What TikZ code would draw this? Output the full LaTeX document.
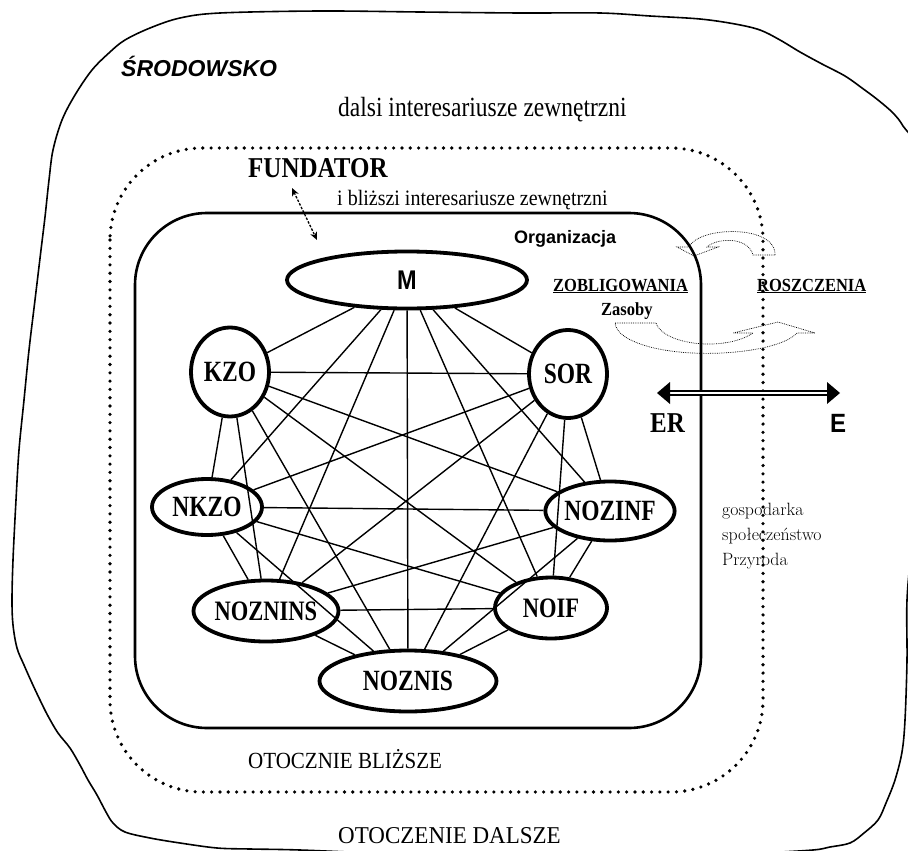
\documentclass[tikz,border=0pt]{standalone}
\usepackage{fontspec}
\usepackage{graphicx}
\newfontfamily\tnr{Liberation Serif}
\newfontfamily\ari{Liberation Sans}
\newcommand\vstretch[2]{\scalebox{1}[#1]{#2}}
\usetikzlibrary{shapes.geometric,arrows.meta}
\tikzset{
  outerline/.style={line width=1.6pt, line join=round},
  dotline/.style={line width=3.6pt, dash pattern=on 0pt off 8.3pt, line cap=round},
  orgbox/.style={line width=2.6pt},
  ell/.style={ellipse, draw, line width=3.8pt, inner sep=0pt, font=\tnr\bfseries\fontsize{23.5}{28}\selectfont},
  link/.style={line width=1.4pt},
  txt/.style={inner sep=0pt, anchor=base west},
  blockarrow/.style={line width=0.7pt, dash pattern=on 0.8pt off 1pt},
  fundarrow/.style={line width=1.3pt, dash pattern=on 2.5pt off 1.5pt, {Stealth[length=8pt,width=7pt]}-{Stealth[length=8pt,width=7pt]}},
}
\begin{document}
\begin{tikzpicture}[x=1pt,y=-1pt]
\useasboundingbox (0,0) rectangle (908,851);
\clip (0,0) rectangle (908,851);

% outer wavy boundary
\draw[outerline] plot[smooth cycle, tension=0.55] coordinates {
(220,13) (320,11) (420,12) (520,13) (600,13) (650,16) (700,19) (735,24) (760,30) (780,40) (800,52) (822,64) (845,76) (862,88) (878,100) (893,113) (903,126) (914,150) (919,250) (920,350) (919,450) (912,540) (907,600) (907,660) (905,720) (902,752) (895,780) (886,803) (878,820) (864,833) (850,843) (830,847) (813,850) (760,853) (700,855) (600,856) (500,856) (400,854) (300,850) (250,849) (217,848) (180,843) (150,838) (125,832) (113,823) (106,812) (97,795) (88,780) (80,765) (70,748) (58,733) (48,716) (40,700) (32,683) (24,665) (17,648) (13,625) (12,600) (13,560) (16,500) (19,450) (24,400) (29,350) (35,300) (41,250) (45,217) (49,180) (53,150) (62,120) (75,95) (92,70) (110,52) (125,40) (150,28) (180,18)};

% dotted rounded rectangle
\draw[dotline, rounded corners=92pt] (110,148) rectangle (763,792);

% organisation box
\draw[orgbox, rounded corners=72pt] (135,213) rectangle (701,728);

% ellipse nodes
\node[ell, minimum width=240pt, minimum height=57pt] (M) at (407,280) {\ari\bfseries\vstretch{1.15}{M}};
\node[ell, minimum width=78pt, minimum height=89pt] (KZO) at (230,372) {\vstretch{1.25}{KZO}};
\node[ell, minimum width=78pt, minimum height=88pt] (SOR) at (568,374) {\vstretch{1.25}{SOR}};
\node[ell, minimum width=110pt, minimum height=56pt] (NKZO) at (207,507) {\vstretch{1.25}{NKZO}};
\node[ell, minimum width=115pt, minimum height=59pt] (NOZINF) at (610,511) {\vstretch{1.25}{NOZINF}};
\node[ell, minimum width=115pt, minimum height=61pt, font=\tnr\bfseries\fontsize{22.5}{26}\selectfont] (NOZNINS) at (266,611) {\vstretch{1.25}{NOZNINS}};
\node[ell, minimum width=112pt, minimum height=61pt, font=\tnr\bfseries\fontsize{22.5}{26}\selectfont] (NOIF) at (551,608) {\vstretch{1.25}{NOIF}};
\node[ell, minimum width=177pt, minimum height=61pt] (NOZNIS) at (408,681) {\vstretch{1.25}{NOZNIS}};

% complete graph links
\foreach \a/\b in {M/KZO, M/SOR, M/NKZO, M/NOZINF, M/NOZNINS, M/NOIF, M/NOZNIS,
  KZO/SOR, KZO/NKZO, KZO/NOZINF, KZO/NOZNINS, KZO/NOIF, KZO/NOZNIS,
  SOR/NKZO, SOR/NOZINF, SOR/NOZNINS, SOR/NOIF, SOR/NOZNIS,
  NKZO/NOZINF, NKZO/NOZNINS, NKZO/NOIF, NKZO/NOZNIS,
  NOZINF/NOZNINS, NOZINF/NOIF, NOZINF/NOZNIS,
  NOZNINS/NOIF, NOZNINS/NOZNIS, NOIF/NOZNIS}
  \draw[link] (\a) -- (\b);

% texts
\node[txt, font=\ari\bfseries\itshape\fontsize{23}{27}\selectfont] (srod) at (121,77) {ŚRODOWSKO};
\node[txt, font=\tnr\fontsize{23.5}{28}\selectfont] (dalsi) at (338,117) {\vstretch{1.18}{dalsi interesariusze zewnętrzni}};
\node[txt, font=\tnr\bfseries\fontsize{25}{30}\selectfont] (fund) at (248,177) {\vstretch{1.15}{FUNDATOR}};
\node[txt, font=\tnr\fontsize{20}{24}\selectfont] (blizsi) at (337,205) {\vstretch{1.1}{i bliższi interesariusze zewnętrzni}};
\node[txt, font=\ari\bfseries\fontsize{18}{22}\selectfont] (org) at (514,243) {Organizacja};
\node[txt, font=\tnr\bfseries\fontsize{16.5}{20}\selectfont] (zob) at (553,291) {\underline{\vstretch{1.12}{ZOBLIGOWANIA}}};
\node[txt, font=\tnr\bfseries\fontsize{16.5}{20}\selectfont] (rosz) at (757,291) {\underline{\vstretch{1.12}{ROSZCZENIA}}};
\node[txt, font=\tnr\bfseries\fontsize{16.5}{20}\selectfont] (zas) at (601,315) {\vstretch{1.12}{Zasoby}};
\node[txt, font=\tnr\bfseries\fontsize{25}{30}\selectfont] (ER) at (650,432) {\vstretch{1.15}{ER}};
\node[txt, font=\ari\bfseries\fontsize{24}{30}\selectfont] (E) at (830,432) {\vstretch{1.1}{E}};
\node[txt, font=\fontsize{17.8}{25}\selectfont] (gosp) at (722,515) {gospodarka};
\node[txt, font=\fontsize{17.8}{25}\selectfont] (spol) at (722,540) {społeczeństwo};
\node[txt, font=\fontsize{17.8}{25}\selectfont] (przy) at (722,565) {Przyroda};
\node[txt, font=\tnr\fontsize{21}{25}\selectfont] (blizsze) at (248,768) {\vstretch{1.1}{OTOCZNIE BLIŻSZE}};
\node[txt, font=\tnr\fontsize{23}{27}\selectfont] (dalsze) at (338,843) {\vstretch{1.05}{OTOCZENIE DALSZE}};

% FUNDATOR arrow
\coordinate (fundTop) at (292,188);
\coordinate (fundBot) at (317,240);
\draw[fundarrow] (fundTop) -- (fundBot);

% double arrow ER - E
\coordinate (erL) at (657,393);
\coordinate (erR) at (840,393);
\draw[line width=1.4pt, double distance=2.4pt, shorten <=10pt, shorten >=10pt] (erL) -- (erR);
\fill (erL) -- ++(13,-11) -- ++(0,22) -- cycle;
\fill (erR) -- ++(-13,-11) -- ++(0,22) -- cycle;

% curved block arrows
\draw[blockarrow] (775,255) .. controls (776,236) and (745,228) .. (715,233)
  .. controls (700,236) and (692,241) .. (689,247) -- (677,247) -- (694,256) -- (718,247) -- (707,247)
  .. controls (716,238) and (748,236) .. (753,255) -- cycle;
\draw[blockarrow] (615,323) -- (656,323) .. controls (663,345) and (725,352) .. (753,333)
  -- (733,333) -- (778,322) -- (815,333) -- (797,333)
  .. controls (780,352) and (700,360) .. (650,347) .. controls (628,341) and (616,333) .. (615,323) -- cycle;
\end{tikzpicture}
\end{document}
